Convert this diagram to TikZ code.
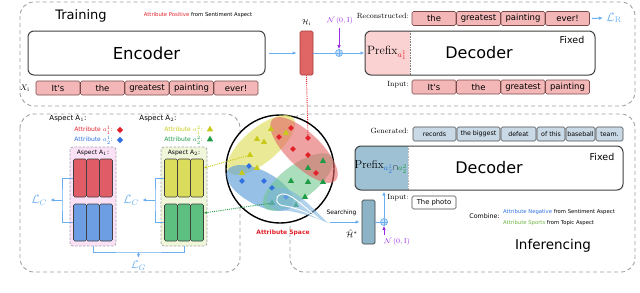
\documentclass[tikz,border=0pt]{standalone}
\usepackage{fontspec}
\newfontfamily\cf{DejaVu Sans}
\newcommand\myfs[1]{\fontsize{#1}{#1}\selectfont}
\usetikzlibrary{arrows.meta,shapes.geometric,calc}
\definecolor{tokpink}{HTML}{F4B7B7}
\definecolor{tokedge}{HTML}{7A4A4A}
\definecolor{hred}{HTML}{E06666}
\definecolor{hredge}{HTML}{A33A3A}
\definecolor{lblue}{HTML}{6AAEF0}
\definecolor{purp}{HTML}{9A2BE0}
\definecolor{prefpink}{HTML}{FAD2D2}
\definecolor{prefblue}{HTML}{9EC2D4}
\definecolor{hbarc}{HTML}{8DB4C6}
\definecolor{gentok}{HTML}{C9D9E5}
\definecolor{blkred}{HTML}{E05C66}
\definecolor{blkblue}{HTML}{6D9DE2}
\definecolor{blkyel}{HTML}{DCDC5C}
\definecolor{blkgrn}{HTML}{5EC080}
\definecolor{boxpink}{HTML}{FBE1F6}
\definecolor{boxgrn}{HTML}{EFF6DA}
\definecolor{attred}{HTML}{E3202A}
\definecolor{attblue}{HTML}{2F6FE0}
\definecolor{attyel}{HTML}{C9C91A}
\definecolor{attgrn}{HTML}{1F9A45}
\definecolor{sportgrn}{HTML}{6DB33F}
\definecolor{ellyel}{HTML}{E2E26A}
\definecolor{ellred}{HTML}{E36464}
\definecolor{ellblue}{HTML}{5E9FDA}
\definecolor{ellgrn}{HTML}{72C892}
\definecolor{conec}{HTML}{7FB6DE}
\begin{document}
\begin{tikzpicture}[x=1pt,y=-1pt,
  frame/.style={draw=gray!75, dash pattern=on 4pt off 3pt, line width=0.9pt, rounded corners=14pt},
  tok/.style={draw=tokedge, fill=tokpink, rounded corners=1.5pt, line width=0.6pt, minimum height=14pt, minimum width=44pt, inner sep=0pt, font=\cf\myfs{8.5}},
  gtok/.style={tok, draw=gray!60!black, fill=gentok, font=\cf\myfs{6.3}},
  bigbox/.style={draw=black!75, line width=1pt, rounded corners=6pt, minimum height=44pt, inner sep=0pt},
  col/.style={draw=black!75, line width=0.6pt, rounded corners=1.5pt, minimum width=13pt, inner sep=0pt},
  aspbox/.style={draw=gray!70, dash pattern=on 2.5pt off 1.5pt, line width=0.8pt, rounded corners=3pt, minimum width=46pt, minimum height=99pt, inner sep=0pt},
  arr/.style={-{Latex[length=4pt,width=3.5pt]}, lblue, line width=1pt},
  lbl/.style={lblue, line width=1pt},
  parr/.style={-{Latex[length=4pt,width=3.5pt]}, purp, line width=1pt},
  oplus/.style={circle, draw=lblue, fill=lblue!35, line width=0.7pt, minimum size=7pt, inner sep=0pt,
    path picture={\draw[lblue, line width=0.6pt] (path picture bounding box.north) -- (path picture bounding box.south) (path picture bounding box.west) -- (path picture bounding box.east);}},
  rdia/.style={diamond, fill=attred, inner sep=0pt, minimum size=6.5pt},
  bdia/.style={diamond, fill=attblue, inner sep=0pt, minimum size=6.5pt},
  ytri/.style={regular polygon, regular polygon sides=3, fill=attyel, inner sep=0pt, minimum size=7.5pt},
  gtri/.style={regular polygon, regular polygon sides=3, fill=attgrn, inner sep=0pt, minimum size=7.5pt},
  lab/.style={font=\myfs{7.5}, anchor=east, inner sep=1pt},
]
\useasboundingbox (0,0) rectangle (640,292);

% ---------------- frames
\draw[frame] (20,2) rectangle (635,106);
\draw[frame] (20,114) rectangle (240,272);
\draw[frame] (290,114) rectangle (635,272);

% ---------------- training
\node[font=\cf\myfs{13}] (train) at (81,16) {Training};
\node[font=\cf\myfs{5.3}] (posnote) at (198,15) {\textcolor{attred}{Attribute Positive} from Sentiment Aspect};
\node[bigbox, minimum width=237pt, font=\cf\myfs{16.5}] (enc) at (146.5,53) {Encoder};
\node[font=\myfs{8}] (xlab) at (25,88) {$X_{\mathrm{i}}$};
\node[tok] (x1) at (58,88) {It's};
\node[tok] (x2) at (102.5,88) {the};
\node[tok] (x3) at (147,88) {greatest};
\node[tok] (x4) at (191.5,88) {painting};
\node[tok] (x5) at (236,88) {ever!};

\node[draw=hredge, fill=hred, line width=0.7pt, rounded corners=1.5pt, minimum width=13pt, minimum height=44pt, inner sep=0pt] (hb) at (306.5,53) {};
\node[font=\myfs{7}] (hlab) at (306.5,23) {$\mathcal{H}_{\mathrm{i}}$};
\draw[arr] ([xshift=3pt]enc.east) -- ([xshift=-3pt]hb.west);

\node[oplus] (p1) at (339,53) {};
\node[font=\myfs{7}, text=purp] (n1) at (340,21) {$\mathcal{N}\,(0,\mathrm{I})$};
\draw[parr] (p1 |- n1.south) -- (p1.north);

\begin{scope}
\clip[rounded corners=6pt] (365,31) rectangle (595,75);
\fill[prefpink] (365,31) rectangle (410,75);
\end{scope}
\draw[gray, densely dotted, line width=0.6pt] (410,31) -- (410,75);
\node[bigbox, minimum width=230pt] (dec) at (480,53) {};
\node[font=\cf\myfs{16}] (dect) at (479,53) {Decoder};
\node[font=\cf\myfs{9.5}] (fix1) at (572,40) {Fixed};
\node[font=\myfs{12}] (pre1) at (387,53) {Prefix$_{\textcolor{attred}{a^1_1}}$};
\draw[lbl] (hb.east) -- (p1.west);
\draw[arr] (p1.east) -- (dec.west);

\node[lab] (reclab) at (410,16) {Reconstructed:};
\node[tok] (r1) at (434,18.5) {the};
\node[tok] (r2) at (478.5,18.5) {greatest};
\node[tok] (r3) at (523,18.5) {painting};
\node[tok] (r4) at (567.5,18.5) {ever!};
\node[text=lblue, font=\myfs{12}] (LR) at (614,18) {$\mathcal{L}_{\mathrm{R}}$};
\draw[arr] ([xshift=2pt]r4.east) -- (LR.west);

\node[lab] (inlab) at (410,85) {Input:};
\node[tok] (i1) at (434,87) {It's};
\node[tok] (i2) at (478.5,87) {the};
\node[tok] (i3) at (523,87) {greatest};
\node[tok] (i4) at (567.5,87) {painting};

% ---------------- aspects
\node[font=\cf\myfs{7}] (asp1) at (68,119) {Aspect A$_1$:};
\node[font=\cf\myfs{6}, text=attred, anchor=east, inner sep=0pt] (at11) at (113,130) {Attribute $a^1_1$:};
\node[rdia] (m11) at (120,130) {};
\node[font=\cf\myfs{6}, text=attblue, anchor=east, inner sep=0pt] (at21) at (113,140) {Attribute $a^1_2$:};
\node[bdia] (m21) at (120,140) {};
\node[font=\cf\myfs{7}] (asp2) at (158,119) {Aspect A$_2$:};
\node[font=\cf\myfs{6}, text=attyel, anchor=east, inner sep=0pt] (at12) at (203,130) {Attribute $a^2_1$:};
\node[ytri] (m12) at (210,129.5) {};
\node[font=\cf\myfs{6}, text=attgrn, anchor=east, inner sep=0pt] (at22) at (203,140) {Attribute $a^2_2$:};
\node[gtri] (m22) at (210,139.5) {};

\node[aspbox, fill=boxpink] (bxA) at (93,196.5) {};
\node[font=\cf\myfs{6}] (bxAl) at (93,153) {Aspect A$_1$:};
\node[col, fill=blkred, minimum height=38pt] (ra) at (80,178) {};
\node[col, fill=blkred, minimum height=38pt] (rb) at (93,178) {};
\node[col, fill=blkred, minimum height=38pt] (rc) at (106,178) {};
\node[col, fill=blkblue, minimum height=37pt] (ba) at (80,222.5) {};
\node[col, fill=blkblue, minimum height=37pt] (bb) at (93,222.5) {};
\node[col, fill=blkblue, minimum height=37pt] (bc) at (106,222.5) {};

\node[aspbox, fill=boxgrn] (bxB) at (184,196.5) {};
\node[font=\cf\myfs{6}] (bxBl) at (184,153) {Aspect A$_2$:};
\node[col, fill=blkyel, minimum height=38pt] (ya) at (171,178) {};
\node[col, fill=blkyel, minimum height=38pt] (yb) at (184,178) {};
\node[col, fill=blkyel, minimum height=38pt] (yc) at (197,178) {};
\node[col, fill=blkgrn, minimum height=37pt] (ga) at (171,222.5) {};
\node[col, fill=blkgrn, minimum height=37pt] (gb) at (184,222.5) {};
\node[col, fill=blkgrn, minimum height=37pt] (gc) at (197,222.5) {};

\coordinate (brA) at (62,200);
\draw[lbl] (ra.west) -| (brA) |- (ba.west);
\node[text=lblue, font=\myfs{12}] (LC1) at (39,200) {$\mathcal{L}_C$};
\draw[arr] (brA) -- (LC1.east);
\coordinate (brB) at (155,200);
\draw[lbl] (ya.west) -| (brB) |- (ga.west);
\node[text=lblue, font=\myfs{12}] (LC2) at (131,200) {$\mathcal{L}_C$};
\draw[arr] (brB) -- (LC2.east);
\coordinate (lgm) at (138.5,252);
\draw[lbl] (bxA.south) |- (lgm) -| (bxB.south);
\node[text=lblue, font=\myfs{11}] (LG) at (138.5,266) {$\mathcal{L}_G$};
\draw[arr] (lgm) -- (LG.north);

% ---------------- attribute space
\node[circle, draw=black, line width=1.4pt, fill=white, minimum size=108pt, inner sep=0pt] (space) at (280,169) {};
\fill[ellyel, opacity=.7, rotate around={40:(261,145)}] (261,145) ellipse [x radius=42pt, y radius=17pt];
\fill[ellblue, opacity=.65, rotate around={-28:(260,188)}] (260,188) ellipse [x radius=37pt, y radius=17pt];
\fill[ellgrn, opacity=.6, rotate around={37:(298,182)}] (298,182) ellipse [x radius=42pt, y radius=17pt];
\fill[ellred, opacity=.6, rotate around={-44:(304,150)}] (304,150) ellipse [x radius=44pt, y radius=17pt];

\foreach \a/\b [count=\i] in {279/137,291/128,308/138,293/149,308/155,316/173}
  \node[rdia, minimum size=6pt] (rd\i) at (\a,\b) {};
\foreach \a/\b [count=\i] in {271/129,286/133,257/139,264/142,250/155,242/173,257/168}
  \node[ytri, minimum size=7pt] (yt\i) at (\a,\b) {};
\foreach \a/\b [count=\i] in {249/166,242/181,264/181,272/188,286/197}
  \node[bdia, minimum size=6pt] (bd\i) at (\a,\b) {};
\foreach \a/\b [count=\i] in {323/161,308/168,291/181,308/182,323/182,305/197,272/203,296/205}
  \node[gtri, minimum size=7pt] (gt\i) at (\a,\b) {};

\fill[conec, opacity=.6] (328,223) .. controls (305,200) and (290,185) .. (276,188)
  .. controls (262,192) and (264,209) .. (280,210) .. controls (295,211) and (312,216) .. cycle;
\draw[white, line width=0.9pt] (318,218) .. controls (300,203) and (290,193) .. (282,194)
  .. controls (273,196) and (276,206) .. (285,206) .. controls (297,208) and (308,213) .. cycle;

\node[font=\cf\bfseries\myfs{6}, text=attred] (spl) at (283,233) {Attribute Space};
\draw[attred, densely dotted, line width=0.9pt] (hb.south) -- (rd3);
\draw[attyel, densely dotted, line width=0.9pt, {Latex[length=3pt,width=2.5pt]}-] ([yshift=10pt]yc.east) -- (yt5);
\draw[attgrn, densely dotted, line width=0.9pt, {Latex[length=3pt,width=2.5pt]}-] ([yshift=9.5pt]gc.east) -- (gt7);

% ---------------- inferencing
\node[lab] (genlab) at (410,131) {Generated:};
\node[gtok, minimum width=43pt] (g1) at (434.5,134) {records};
\node[gtok, minimum width=43pt] (g2) at (478.5,134) {the biggest};
\node[gtok, minimum width=35pt] (g3) at (518.5,134) {defeat};
\node[gtok, minimum width=28pt] (g4) at (551,134) {of this};
\node[gtok, minimum width=29pt] (g5) at (580.5,134) {baseball};
\node[gtok, minimum width=27pt] (g6) at (609.5,134) {team.};

\begin{scope}
\clip[rounded corners=6pt] (355,146) rectangle (623,190);
\fill[prefblue] (355,146) rectangle (408,190);
\end{scope}
\draw[gray!60, densely dotted, line width=0.6pt] (408,146) -- (408,190);
\node[bigbox, minimum width=268pt] (dec2) at (489,168) {};
\node[font=\cf\myfs{16}] (dect2) at (489,168) {Decoder};
\node[font=\cf\myfs{9.5}] (fix2) at (602,157) {Fixed};
\node[font=\myfs{11.5}] (pre2) at (381,167) {Prefix$_{\textcolor{attblue}{a^1_2}\cap\textcolor{attgrn}{a^2_2}}$};

\node[draw=black!75, fill=hbarc, rounded corners=1.5pt, line width=0.7pt, minimum width=13pt, minimum height=44pt, inner sep=0pt] (hs) at (368.5,222) {};
\node[font=\myfs{8.5}, inner sep=0pt] (hslab) at (352,234) {$\tilde{\mathcal{H}}^{*}$};
\node[font=\cf\myfs{6}, inner sep=1pt] (srch) at (341.5,213) {Searching};
\coordinate (ctip) at (330,222);
\draw[arr] (ctip) -- ([xshift=-2pt]hs.west);
\node[oplus] (p2) at (384,222) {};
\draw[lbl] (hs.east) -- (p2.west);
\draw[arr] (p2.north) -- ([yshift=-1pt]p2 |- dec2.south);
\node[font=\myfs{7}, text=purp] (n2) at (397,242) {$\mathcal{N}\,(0,\mathrm{I})$};
\draw[parr] (p2 |- n2.north) -- (p2.south);

\node[lab] (inlab2) at (410,198) {Input:};
\node[draw=gray!60!black, fill=white, rounded corners=1.5pt, line width=0.6pt, minimum width=44pt, minimum height=13pt, inner sep=0pt, font=\cf\myfs{6.8}] (photo) at (434,202.5) {The photo};

\node[font=\cf\myfs{6.3}] (comb) at (484.5,216.5) {Combine:};
\node[font=\cf\myfs{5.3}, anchor=west, inner sep=0pt] (c1) at (503,212) {\textcolor{attblue}{Attribute Negative} from Sentiment Aspect};
\node[font=\cf\myfs{5.3}, anchor=west, inner sep=0pt] (c2) at (503,223) {\textcolor{sportgrn}{Attribute Sports} from Topic Aspect};
\node[font=\cf\myfs{13.5}] (infer) at (553,246) {Inferencing};
\end{tikzpicture}
\end{document}
